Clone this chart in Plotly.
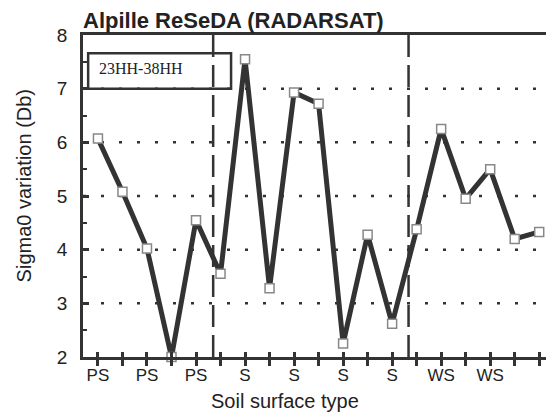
import plotly.graph_objects as go

# Data
point_index = list(range(1, 20))
sigma0_variation = [6.07, 5.08, 4.02, 2.0, 4.55, 3.55, 7.55, 3.28, 6.93, 6.72,
                    2.25, 4.28, 2.62, 4.38, 6.25, 4.95, 5.5, 4.2, 4.33]
tick_labels = ["PS", "", "PS", "", "PS", "", "S", "", "S", "", "S", "", "S", "",
               "WS", "", "WS", "", ""]
group_separators = [5.7, 13.67]
y_ticks = [2, 3, 4, 5, 6, 7, 8]
grid_levels = [3, 4, 5, 6, 7]
box_label = "23HH-38HH"
title_text = "Alpille ReSeDA (RADARSAT)"
x_title = "Soil surface type"
y_title = "Sigma0 variation (Db)"

FONT = "Liberation Sans, Arial, sans-serif"
DARK = "#333333"

# the page body adds an 8px margin, so the figure is drawn 8px smaller
OFF = 8
W, H = 554 - OFF, 416 - OFF
PL, PT, PR, PB = 83 - OFF, 35 - OFF, 553 - OFF, 357 - OFF
PW, PH = PR - PL, PB - PT

fig = go.Figure()

# dotted horizontal grid
for g in grid_levels:
    fig.add_shape(type="line", xref="x", yref="y", x0=0.39, x1=19.44, y0=g, y1=g,
                  line=dict(color=DARK, width=2.5, dash="3px,15px"), layer="below")

# dashed group separators
for s in group_separators:
    fig.add_shape(type="line", xref="x", yref="y", x0=s, x1=s, y0=2, y1=8,
                  line=dict(color=DARK, width=2.5, dash="22px,8px"), layer="below")

# label box
fig.add_shape(type="rect", xref="x", yref="y", x0=0.6, x1=6.43, y0=7.0, y1=7.66,
              line=dict(color=DARK, width=2.5), fillcolor="rgba(0,0,0,0)")
fig.add_annotation(x=0.98, y=7.37, xref="x", yref="y", text=box_label, showarrow=False,
                   xanchor="left", yanchor="middle",
                   font=dict(family="Liberation Serif, Times New Roman, serif", size=16, color="#222"))

fig.add_trace(go.Scatter(
    x=point_index, y=sigma0_variation, mode="lines+markers",
    line=dict(color="#333333", width=5),
    marker=dict(symbol="square", size=9, color="white", line=dict(color="#888888", width=1.5)),
    showlegend=False, cliponaxis=False,
))
# invisible trace to activate the overlay axis for inside ticks
fig.add_trace(go.Scatter(x=[1], y=[2], xaxis="x2", mode="markers",
                         marker=dict(opacity=0), showlegend=False, hoverinfo="skip"))

fig.update_layout(
    width=W, height=H,
    margin=dict(l=PL, r=W - PR, t=PT, b=H - PB),
    paper_bgcolor="white", plot_bgcolor="white",
    font=dict(family=FONT, color="#222"),
    title=dict(text="<b>" + title_text + "</b>", x=0, xref="paper", xanchor="left",
               y=1 - (20 - OFF) / H, yref="container", yanchor="middle",
               font=dict(family=FONT, size=22, color="#222")),
    xaxis=dict(range=[0.39, 19.44], tickmode="array", tickvals=point_index, ticktext=tick_labels,
               ticks="outside", ticklen=6, tickwidth=2.5, tickcolor=DARK,
               showline=True, linecolor=DARK, linewidth=2.5, mirror=True,
               showgrid=False, zeroline=False, ticklabelstandoff=-5,
               tickfont=dict(family=FONT, size=17, color="#222")),
    xaxis2=dict(range=[0.39, 19.44], overlaying="x", anchor="y", side="bottom",
                tickmode="array", tickvals=point_index, ticktext=[""] * 19,
                ticks="inside", ticklen=5, tickwidth=2.5, tickcolor=DARK,
                showline=False, showgrid=False, zeroline=False, showticklabels=False),
    yaxis=dict(range=[2, 8], tickmode="array", tickvals=y_ticks,
               ticks="inside", ticklen=6, tickwidth=2.5, tickcolor=DARK,
               minor=dict(dtick=0.5, ticks="inside", ticklen=4, tickwidth=2, tickcolor=DARK),
               showline=True, linecolor=DARK, linewidth=2.5, mirror=True,
               showgrid=False, zeroline=False, ticklabelstandoff=9,
               tickfont=dict(family=FONT, size=19, color="#222")),
)

fig.add_annotation(x=(286 - 83) / PW, y=-44 / PH, xref="paper", yref="paper", text=x_title,
                   showarrow=False, xanchor="center", yanchor="middle",
                   font=dict(family=FONT, size=20, color="#222"))
fig.add_annotation(x=-59 / PW, y=(357 - 186) / PH, xref="paper", yref="paper", text=y_title,
                   showarrow=False, textangle=-90, xanchor="center", yanchor="middle",
                   font=dict(family=FONT, size=20, color="#222"))

fig.write_html("out.html")
